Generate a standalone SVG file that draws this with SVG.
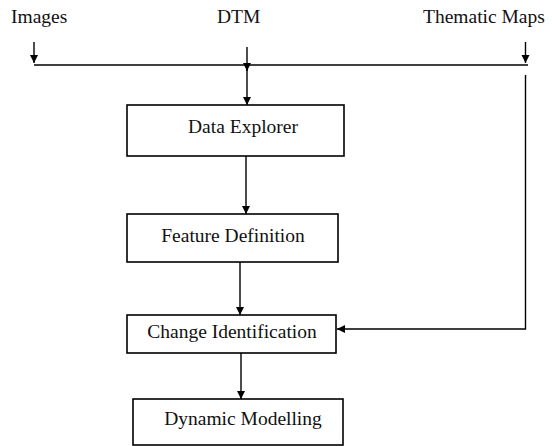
<svg xmlns="http://www.w3.org/2000/svg" width="552" height="446" viewBox="0 0 552 446">
<style>
.box{fill:#fff;stroke:#000;stroke-width:1.6}
.lbl{font-family:"Liberation Serif","Times New Roman",serif;font-size:19.5px;fill:#111}
.ln{stroke:#000;stroke-width:1.4;fill:none}
</style>
<defs>
<marker id="ah" markerUnits="userSpaceOnUse" markerWidth="10" markerHeight="10" viewBox="0 0 10 10" refX="9" refY="5" orient="auto">
<path d="M1,1 L9,5 L1,9 Z" fill="#000"/>
</marker>
</defs>
<rect width="552" height="446" fill="#fff"/>
<g id="labels">
<text class="lbl" x="11" y="23">Images</text>
<text class="lbl" x="217" y="23">DTM</text>
<text class="lbl" x="423" y="23">Thematic Maps</text>
</g>
<g id="connectors">
<line class="ln" x1="34" y1="42" x2="34" y2="63" marker-end="url(#ah)"/>
<line class="ln" x1="525.5" y1="42" x2="525.5" y2="63" marker-end="url(#ah)"/>
<line class="ln" x1="34" y1="65" x2="528" y2="65"/>
<line class="ln" x1="247" y1="47" x2="247" y2="71" marker-end="url(#ah)"/>
<line class="ln" x1="247" y1="65" x2="247" y2="105" marker-end="url(#ah)"/>
<line class="ln" x1="246" y1="156" x2="246" y2="214" marker-end="url(#ah)"/>
<line class="ln" x1="240" y1="262" x2="240" y2="315" marker-end="url(#ah)"/>
<line class="ln" x1="241" y1="353" x2="241" y2="399" marker-end="url(#ah)"/>
<polyline class="ln" points="525.5,75 525.5,329 337,329" marker-end="url(#ah)"/>
</g>
<g id="data-explorer">
<rect class="box" x="127" y="105" width="217" height="51"/>
<text class="lbl" x="243" y="133" text-anchor="middle">Data Explorer</text>
</g>
<g id="feature-definition">
<rect class="box" x="127" y="214" width="211" height="48"/>
<text class="lbl" x="233" y="242" text-anchor="middle">Feature Definition</text>
</g>
<g id="change-identification">
<rect class="box" x="127" y="315" width="209" height="38"/>
<text class="lbl" x="232" y="338" text-anchor="middle">Change Identification</text>
</g>
<g id="dynamic-modelling">
<rect class="box" x="133" y="399" width="210" height="46"/>
<text class="lbl" x="243" y="425" text-anchor="middle">Dynamic Modelling</text>
</g>
</svg>
